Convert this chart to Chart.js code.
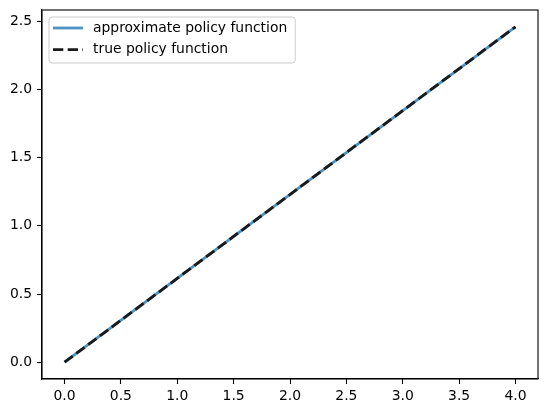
<!DOCTYPE html>
<html>
<head>
<meta charset="utf-8">
<script src="https://cdn.jsdelivr.net/npm/chart.js@4"></script>
<style>
  html, body { margin: 0; padding: 0; background: #fff; }
  #wrap { width: 547px; height: 413px; }
</style>
</head>
<body>
<div id="wrap"><canvas id="policychart"></canvas></div>
<script>
// 데이터
const kGrid = [0, 4];
const approxPolicy = [0, 2.46];
const truePolicy = [0, 2.46];
const xTicks = [0, 0.5, 1, 1.5, 2, 2.5, 3, 3.5, 4];
const yTicks = [0, 0.5, 1, 1.5, 2, 2.5];
const seriesLabels = ['approximate policy function', 'true policy function'];

const fontSize = 13.9;
const fontFamily = "'DejaVu Sans', sans-serif";

function toPoints(xs, ys) {
    return xs.map(function(x, i) { return { x: x, y: ys[i] }; });
}

// 축 테두리 (위, 오른쪽 포함)
const frame = {
    id: 'frame',
    afterDatasetsDraw(chart) {
        const a = chart.chartArea, ctx = chart.ctx;
        ctx.save();
        ctx.strokeStyle = '#000';
        ctx.lineWidth = 1.1;
        ctx.strokeRect(a.left, a.top, a.right - a.left, a.bottom - a.top);
        ctx.restore();
    }
};

// matplotlib 스타일 범례 (왼쪽 위)
const boxLegend = {
    id: 'boxLegend',
    afterDraw(chart) {
        const a = chart.chartArea, ctx = chart.ctx;
        ctx.save();
        ctx.font = fontSize + 'px ' + fontFamily;
        const sets = chart.data.datasets;
        let textW = 0;
        sets.forEach(function(ds) { textW = Math.max(textW, ctx.measureText(ds.label).width); });
        const x0 = a.left + 7, y0 = a.top + 7;
        const w = 44 + textW + 8, h = 46;
        ctx.beginPath();
        ctx.roundRect(x0, y0, w, h, 3);
        ctx.fillStyle = 'rgba(255,255,255,0.8)';
        ctx.fill();
        ctx.strokeStyle = '#cccccc';
        ctx.lineWidth = 1;
        ctx.stroke();
        sets.forEach(function(ds, i) {
            const cy = y0 + 11 + i * 21.7;
            ctx.beginPath();
            ctx.setLineDash(ds.borderDash || []);
            ctx.strokeStyle = ds.borderColor;
            ctx.lineWidth = ds.borderWidth;
            ctx.moveTo(x0 + 4, cy);
            ctx.lineTo(x0 + 34, cy);
            ctx.stroke();
            ctx.setLineDash([]);
            ctx.fillStyle = '#000';
            ctx.textBaseline = 'middle';
            ctx.fillText(ds.label, x0 + 44, cy);
        });
        ctx.restore();
    }
};

const config = {
    type: 'line',
    data: {
        datasets: [{
            label: seriesLabels[0],
            data: toPoints(kGrid, approxPolicy),
            borderColor: 'rgba(31,119,180,0.8)',
            borderWidth: 2.8,
            pointRadius: 0,
            fill: false,
            order: 1 // 아래에 그림
        }, {
            label: seriesLabels[1],
            data: toPoints(kGrid, truePolicy),
            borderColor: '#1a1a1a',
            borderWidth: 2.8,
            borderDash: [10.3, 4.4],
            pointRadius: 0,
            fill: false,
            order: 0 // 위에 그림
        }]
    },
    options: {
        responsive: true,
        maintainAspectRatio: false,
        animation: false,
        layout: { padding: { left: 0, right: 9, top: 10, bottom: 0 } },
        plugins: {
            legend: { display: false },
            tooltip: { enabled: false }
        },
        scales: {
            x: {
                type: 'linear',
                min: -0.2,
                max: 4.2,
                afterBuildTicks: function(scale) { scale.ticks = xTicks.map(function(v) { return { value: v }; }); },
                afterFit: function(scale) { scale.height = 34; scale.paddingLeft = 0; scale.paddingRight = 0; },
                border: { display: true, color: '#000', width: 1.1 },
                grid: { display: true, drawOnChartArea: false, drawTicks: true, tickLength: 5, color: '#000', tickWidth: 1.1 },
                ticks: {
                    padding: 4,
                    color: '#000',
                    maxRotation: 0,
                    autoSkip: false,
                    font: { family: fontFamily, size: fontSize },
                    callback: function(v) { return v.toFixed(1); }
                }
            },
            y: {
                type: 'linear',
                min: -0.123,
                max: 2.583,
                afterBuildTicks: function(scale) { scale.ticks = yTicks.map(function(v) { return { value: v }; }); },
                afterFit: function(scale) { scale.width = 42; scale.paddingTop = 0; scale.paddingBottom = 0; },
                border: { display: true, color: '#000', width: 1.1 },
                grid: { display: true, drawOnChartArea: false, drawTicks: true, tickLength: 5, color: '#000', tickWidth: 1.1 },
                ticks: {
                    padding: 5,
                    color: '#000',
                    autoSkip: false,
                    font: { family: fontFamily, size: fontSize },
                    callback: function(v) { return v.toFixed(1); }
                }
            }
        }
    },
    plugins: [frame, boxLegend]
};

const policyChart = new Chart(document.getElementById('policychart'), config);
</script>
</body>
</html>
